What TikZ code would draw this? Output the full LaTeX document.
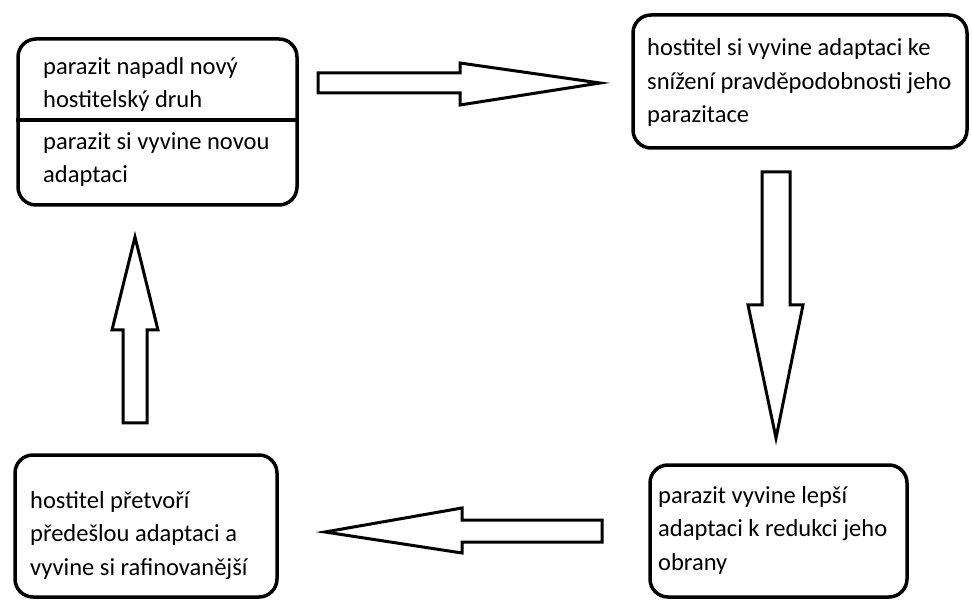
\documentclass[tikz,border=0pt]{standalone}
\usepackage{fontspec}
\setmainfont{Carlito}
\usetikzlibrary{positioning}

\begin{document}
\begin{tikzpicture}[x=1pt, y=-1pt,
        stage/.style={rectangle, draw=black, line width=3.5pt, rounded corners=18pt, inner sep=0pt},
        stagetext/.style={anchor=base west, align=left, inner sep=0pt, font=\fontsize{24.5}{33.5}\selectfont},
        blockarrow/.style={draw=black, line width=3pt, fill=white, line join=miter}
    ]
        \useasboundingbox (0,0) rectangle (972,601);

        \node[stage, minimum width=279pt, minimum height=166pt] (infect) at (157.5,122) {};
        \node[stage, minimum width=334pt, minimum height=133pt] (hostadapt) at (800,81.5) {};
        \node[stage, minimum width=257pt, minimum height=132pt] (parabetter) at (778.5,531) {};
        \node[stage, minimum width=262pt, minimum height=142pt] (hostrefine) at (146,526) {};

        \coordinate (split) at (0,120);
        \draw[line width=3.5pt] (infect.west |- split) -- (infect.east |- split);

        % text anchored at the baseline of its last line
        \node[stagetext] (infecttext) at (43,108) {parazit napadl nový\\hostitelský druh};
        \node[stagetext] (newtext) at (43,183) {parazit si vyvine novou\\adaptaci};
        \node[stagetext] (hosttext) at (647,123) {hostitel si vyvine adaptaci ke\\snížení pravděpodobnosti jeho\\parazitace};
        \node[stagetext] (bettertext) at (658,570) {parazit vyvine lepší\\adaptaci k redukci jeho\\obrany};
        \node[stagetext] (refinetext) at (30,575) {hostitel přetvoří\\předešlou adaptaci a\\vyvine si rafinovanější};

        % block arrows between the stages
        \draw[blockarrow] (318,73) -- (460,73) -- (460,63) -- (600,83) -- (460,105) -- (460,93) -- (318,93) -- cycle;
        \draw[blockarrow] (762,172) -- (790,172) -- (790,305) -- (803,305) -- (776,438) -- (748,305) -- (762,305) -- cycle;
        \draw[blockarrow] (602,520) -- (462,520) -- (462,508) -- (325,532) -- (462,553) -- (462,542) -- (602,542) -- cycle;
        \draw[blockarrow] (123,423) -- (123,330) -- (112,330) -- (135,237) -- (158,330) -- (147,330) -- (147,423) -- cycle;
    \end{tikzpicture}
\end{document}
